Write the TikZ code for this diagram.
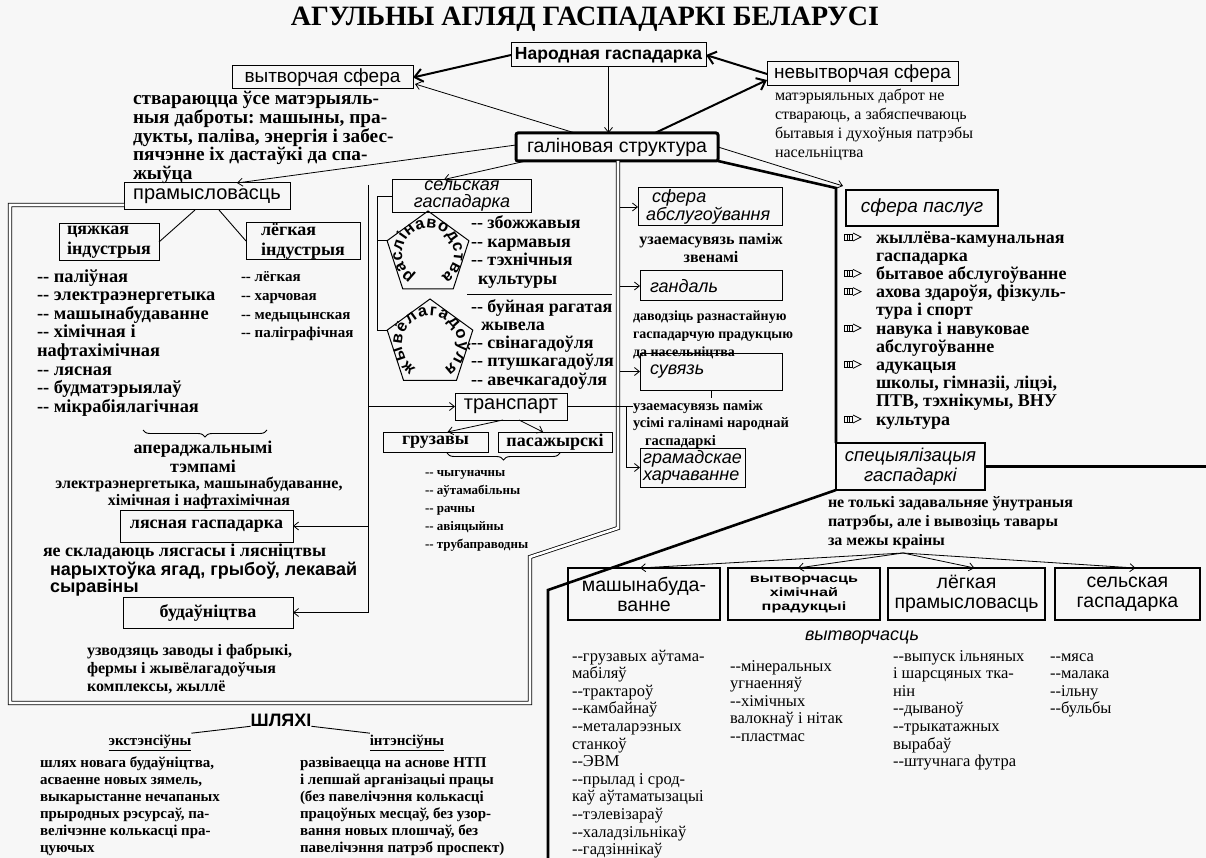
\documentclass[tikz,border=0pt]{standalone}
\usepackage{fontspec}
\usepackage{graphicx}
\setmainfont{Liberation Serif}
\setsansfont{Liberation Sans}
\usetikzlibrary{arrows.meta,shapes.geometric,decorations.text,decorations.pathreplacing,calc}

\newcommand{\fsz}[2]{\fontsize{#1}{#2}\selectfont}
\newcommand{\lnup}{\rule{0pt}{0.8em}}
\frenchspacing

\begin{document}
\begin{tikzpicture}[x=1pt,y=-1pt,
  every node/.style={inner sep=0pt,outer sep=0pt},
  boxline/.style={draw,line width=1pt},
  sbox/.style={boxline,font=\sffamily\fsz{19}{20}},
  ibox/.style={boxline,font=\sffamily\itshape\fsz{18}{17}},
  rbox/.style={boxline,font=\rmfamily\bfseries\fsz{18}{20}},
  thickbox/.style={draw,line width=2.4pt},
  bigbox/.style={draw,line width=1.8pt,align=center,minimum height=52pt},
  txt/.style={anchor=north west,align=left},
  ctxt/.style={anchor=north,align=center},
  pentagon/.style={draw,line width=1pt,regular polygon,regular polygon sides=5},
  thinline/.style={line width=0.9pt},
  arrowthin/.style={line width=0.8pt,-{Straight Barb[length=5pt,width=8pt]}},
  arrowbig/.style={line width=2pt,-{Straight Barb[length=8pt,width=13pt]}},
  heavyline/.style={line width=2.6pt,line join=miter},
  dblline/.style={double,double distance=2.6pt,line width=0.8pt},
]
% page
\path[use as bounding box,fill=gray!6] (0,0) rectangle (1206,858);

% ---------- top level ----------
\node[font=\rmfamily\bfseries\fsz{28}{28}] (title) at (585,19) {АГУЛЬНЫ АГЛЯД ГАСПАДАРКІ БЕЛАРУСІ};

\node[boxline,font=\sffamily\bfseries\fsz{17.5}{18},minimum width=195pt,minimum height=24pt] (nat) at (608.5,55) {Народная гаспадарка};
\node[sbox,minimum width=181pt,minimum height=23pt] (prod) at (322.5,77.5) {вытворчая сфера};
\node[sbox,minimum width=191pt,minimum height=24pt] (nonprod) at (862.5,74) {невытворчая сфера};
\node[draw,line width=3pt,rounded corners=2pt,font=\sffamily\fsz{19.5}{20},minimum width=202pt,minimum height=28pt] (branch) at (617,147) {галіновая структура};

\node[txt,font=\rmfamily\bfseries\fsz{19.3}{18.8}] (prodtxt) at (133,89) {\lnup ствараюцца ўсе матэрыяль-\\ныя даброты: машыны, пра-\\дукты, паліва, энергія і забес-\\пячэнне іх дастаўкі да спа-\\жыўца};
\node[txt,font=\rmfamily\fsz{16}{18.8}] (nonprodtxt) at (775,88.2) {\lnup матэрыяльных даброт не\\ствараюць, а забяспечваюць\\бытавыя і духоўныя патрэбы\\насельніцтва};

\draw[arrowbig] (nat.west) -- (prod.east);
\draw[arrowthin] ([xshift=-42pt]branch.north) -- ([xshift=2pt,yshift=5pt]prod.south east);
\draw[arrowthin] (nat.south) -- (nat.south |- branch.north);
\draw[arrowbig] (nonprod.west) -- (nat.east);
\draw[arrowbig] ([xshift=38pt]branch.north) -- ([yshift=-6pt]nonprod.west);

% ---------- industry ----------
\node[sbox,font=\sffamily\fsz{20}{20},minimum width=166pt,minimum height=27pt] (ind) at (207,196.5) {прамысловасць};
\draw[arrowthin] ([yshift=2pt]branch.west) -- ([xshift=30pt]ind.north);

\draw[dblline] (ind.west |- 0,205) -- (10,205) -- (10,703) -- (530,703) -- (530,557) -- (618,528) -- (618,161);

\node[rbox,align=left,minimum width=100pt,minimum height=37pt] (heavy) at (109,242) {цяжкая\\індустрыя};
\node[rbox,align=left,minimum width=114pt,minimum height=37pt] (light) at (303,241) {лёгкая\\індустрыя};
\draw[thinline] ([xshift=-12pt]ind.south) -- (heavy.east);
\draw[thinline] ([xshift=12pt]ind.south) -- (light.west);

\node[txt,font=\rmfamily\bfseries\fsz{18.4}{18.6}] (heavylist) at (37,267.3) {\lnup -{}- паліўная\\-{}- электраэнергетыка\\-{}- машынабудаванне\\-{}- хімічная і\\нафтахімічная\\-{}- лясная\\-{}- будматэрыялаў\\-{}- мікрабіялагічная};
\node[txt,font=\rmfamily\bfseries\fsz{15}{18.6}] (lightlist) at (241,270) {\lnup -{}- лёгкая\\-{}- харчовая\\-{}- медыцынская\\-{}- паліграфічная};

\draw[thinline,decorate,decoration={brace,amplitude=7pt}] (267,430) -- (143,430);
\node[ctxt,font=\rmfamily\bfseries\fsz{18}{19}] (rate) at (203,438.6) {\lnup апераджальнымі\\тэмпамі};
\node[ctxt,font=\rmfamily\bfseries\fsz{16}{17}] (leaders) at (199,475.2) {\lnup электраэнергетыка, машынабудаванне,\\хімічная і нафтахімічная};

\node[rbox,minimum width=173pt,minimum height=32pt] (forest) at (206.5,526) {лясная гаспадарка};
\node[anchor=base west,font=\rmfamily\bfseries\fsz{18}{18}] (forestdesc) at (43,556) {яе складаюць лясгасы і лясніцтвы};
\node[txt,font=\sffamily\bfseries\fsz{18}{17}] (forestwork) at (50,560.6) {\lnup нарыхтоўка ягад, грыбоў, лекавай\\сыравіны};

\node[rbox,minimum width=170pt,minimum height=31pt] (build) at (208,612.5) {будаўніцтва};
\node[txt,font=\rmfamily\bfseries\fsz{16}{18}] (builddesc) at (87,642.2) {\lnup узводзяць заводы і фабрыкі,\\фермы і жывёлагадоўчыя\\комплексы, жыллё};

% vertical feeder inside the production sphere
\coordinate (vtop) at (368,185);
\draw[arrowthin] (vtop) |- (build.east);
\draw[arrowthin] (vtop |- forest.east) -- (forest.east);

% ---------- agriculture ----------
\node[ibox,align=center,minimum width=139pt,minimum height=33pt] (agri) at (462,196) {сельская\\гаспадарка};
\draw[arrowthin] ([xshift=10pt]branch.south west) -- ([xshift=-18pt]agri.north);

\node[pentagon,minimum size=86pt] (pent1) at (428,254) {};
\node[pentagon,minimum size=90pt] (pent2) at (430,344) {};
\begin{scope}[shift={(pent1.center)},y=1pt]
  \path[decorate,decoration={text along path,text align=fit to path,
    text={|\sffamily\bfseries\fsz{16.5}{16.5}|раслінаводства}}]
    (240:26) arc[start angle=240,end angle=-60,radius=26];
\end{scope}
\begin{scope}[shift={(pent2.center)},y=1pt]
  \path[decorate,decoration={text along path,text align=fit to path,
    text={|\sffamily\bfseries\fsz{16.5}{16.5}|жывёлагадоўля}}]
    (240:28) arc[start angle=240,end angle=-60,radius=28];
\end{scope}
\draw[thinline] (agri.west) -- ++(-15,0) coordinate (bk) -- (bk |- pent2.corner 2) -- (pent2.corner 2);
\draw[thinline] (bk |- pent1.corner 2) -- (pent1.corner 2);

\node[txt,font=\rmfamily\bfseries\fsz{18}{18.5}] (crops) at (471,214.6) {\lnup -{}- збожжавыя\\-{}- кармавыя\\-{}- тэхнічныя\\\hspace*{7pt}культуры};
\draw[thinline] (467,294) -- (612,294);
\node[txt,font=\rmfamily\bfseries\fsz{18}{18.3}] (stock) at (471,297.6) {\lnup -{}- буйная рагатая\\\hspace*{10pt}жывела\\-{}- свінагадоўля\\-{}- птушкагадоўля\\-{}- авечкагадоўля};

% ---------- transport ----------
\node[sbox,font=\sffamily\fsz{20}{20},minimum width=112pt,minimum height=27pt] (transp) at (511,406.5) {транспарт};
\draw[arrowthin] (vtop |- transp.west) -- (transp.west);
\node[rbox,minimum width=105pt,minimum height=20pt] (cargo) at (435.5,442) {грузавы};
\node[rbox,minimum width=114pt,minimum height=20pt] (pass) at (555,442) {пасажырскі};
\draw[arrowthin] ([xshift=-8pt]transp.south) -- ([xshift=12pt]cargo.north);
\draw[arrowthin] ([xshift=8pt]transp.south) -- ([xshift=-12pt]pass.north);
\draw[thinline,decorate,decoration={brace,amplitude=7pt}] (560,453) -- (447,453);
\node[txt,font=\rmfamily\bfseries\fsz{13}{18}] (modes) at (425,466) {\lnup -{}- чыгуначны\\-{}- аўтамабільны\\-{}- рачны\\-{}- авіяцыйны\\-{}- трубаправодны};

% ---------- services of the production sphere ----------
\coordinate (dl) at (620,0);
\node[ibox,align=left,text width=128pt,minimum width=144pt,minimum height=38pt] (svc) at (710,207) {\hspace*{6pt}сфера\\абслугоўвання};
\node[ctxt,font=\rmfamily\bfseries\fsz{16}{17.5}] (svcdesc) at (711,232.2) {\lnup узаемасувязь паміж\\звенамі};
\node[ibox,align=left,text width=122pt,minimum width=142pt,minimum height=30pt] (trade) at (711,286) {гандаль};
\node[txt,font=\rmfamily\bfseries\fsz{14}{18}] (tradedesc) at (633,308.8) {\lnup даводзіць разнастайную\\гаспадарчую прадукцыю\\да насельніцтва};
\node[ibox,align=left,text width=122pt,minimum width=142pt,minimum height=37pt] (comm) at (711,371.5) {сувязь};
\node[txt,font=\rmfamily\bfseries\fsz{14.5}{17.5}] (link) at (633,398.4) {\lnup узаемасувязь паміж\\усімі галінамі народнай\\\hspace*{12pt}гаспадаркі};
\node[ibox,align=left,minimum width=105pt,minimum height=39pt] (cater) at (692.5,467.5) {грамадскае\\харчаванне};

\draw[arrowthin] (svc.west -| dl) -- (svc.west);
\draw[arrowthin] (trade.west -| dl) -- (trade.west);
\draw[arrowthin] (comm.west -| dl) -- (comm.west);
\draw[thinline] (comm.south) -- ++(0,8);
\draw[thinline] (transp.east) -- (transp.east -| link.west);
\coordinate (lk) at (626,406);
\draw[arrowthin] (lk) |- (cater.west);

% ---------- non-production services ----------
\coordinate (hb) at (836,188);
\draw[heavyline] (branch.south east) -- (hb) -- (836,443);
\node[thickbox,font=\sffamily\itshape\fsz{19}{20},minimum width=152pt,minimum height=36pt] (services) at (922,208) {сфера паслуг};
\draw[arrowthin] (branch.east) -- ([xshift=-3pt,yshift=4pt]services.north west);
\node[txt,font=\rmfamily\bfseries\fsz{18}{18.2}] (servlist) at (876,228.6) {\lnup жыллёва-камунальная\\гаспадарка\\бытавое абслугоўванне\\ахова здароўя, фізкуль-\\тура і спорт\\навука і навуковае\\абслугоўванне\\адукацыя\\школы, гімназіі, ліцэі,\\ПТВ, тэхнікумы, ВНУ\\культура};
\foreach \yy in {243,279.4,297.6,334,370.4,425}{
  \draw[line width=0.5pt] (844,\yy-9) rectangle (852,\yy-3);
  \draw[line width=0.4pt] (846.7,\yy-9) -- (846.7,\yy-3) (849.3,\yy-9) -- (849.3,\yy-3);
  \draw[line width=0.8pt] (853,\yy-10) -- (861,\yy-6) -- (853,\yy-2);
}

% ---------- specialisation ----------
\node[thickbox,font=\sffamily\itshape\fsz{18.5}{20},align=center,minimum width=149pt,minimum height=47pt] (spec) at (910.5,466.5) {спецыялізацыя\\гаспадаркі};
\coordinate (rE) at (1206,0);
\draw[heavyline] (spec.east) -- (spec.east -| rE);
\coordinate (bl1) at (548,590);
\coordinate (bl2) at (548,858);
\draw[heavyline] (spec.south west) -- (bl1) -- (bl2);
\node[txt,font=\rmfamily\bfseries\fsz{16}{19}] (specdesc) at (828,494.2) {\lnup не толькі задавальняе ўнутраныя\\патрэбы, але і вывозіць тавары\\за межы краіны};

\node[bigbox,font=\sffamily\fsz{19.5}{20},minimum width=152pt] (mach) at (644,594) {машынабуда-\\ванне};
\node[bigbox,font=\sffamily\bfseries\fsz{12}{14},minimum width=152pt] (chem) at (804,594) {\scalebox{1.35}[1]{\begin{tabular}{@{}c@{}}вытворчасць\\хімічнай\\прадукцыі\end{tabular}}};
\node[bigbox,font=\sffamily\fsz{19.5}{20},minimum width=157pt] (lightind) at (966.5,594) {лёгкая\\прамысловасць};
\node[bigbox,font=\sffamily\fsz{19.5}{20},minimum width=145pt] (agri2) at (1127.5,594) {сельская\\гаспадарка};

\coordinate (fan) at (903,553);
\draw[arrowthin] (fan) -- ([xshift=-4pt]mach.north);
\draw[arrowthin] (fan) -- ([xshift=-6pt]chem.north);
\draw[arrowthin] (fan) -- ([xshift=8pt]lightind.north);
\draw[arrowthin] (fan) -- ([xshift=8pt]agri2.north);

\node[font=\sffamily\itshape\fsz{18}{18}] (outp) at (862,638) {вытворчасць};
\node[txt,font=\rmfamily\fsz{16.5}{17.6}] (col1) at (572,647.8) {\lnup -{}-грузавых аўтама-\\мабіляў\\-{}-трактароў\\-{}-камбайнаў\\-{}-металарэзных\\станкоў\\-{}-ЭВМ\\-{}-прылад і срод-\\каў аўтаматызацыі\\-{}-тэлевізараў\\-{}-халадзільнікаў\\-{}-гадзіннікаў};
\node[txt,font=\rmfamily\fsz{16.5}{17.6}] (col2) at (730,657.8) {\lnup -{}-мінеральных\\угнаенняў\\-{}-хімічных\\валокнаў і нітак\\-{}-пластмас};
\node[txt,font=\rmfamily\fsz{16.5}{17.6}] (col3) at (893,647.8) {\lnup -{}-выпуск ільняных\\і шарсцяных тка-\\нін\\-{}-дываноў\\-{}-трыкатажных\\вырабаў\\-{}-штучнага футра};
\node[txt,font=\rmfamily\fsz{16.5}{17.6}] (col4) at (1050,647.8) {\lnup -{}-мяса\\-{}-малака\\-{}-ільну\\-{}-бульбы};

% ---------- ways of development ----------
\node[font=\sffamily\bfseries\fsz{18}{18}] (ways) at (281,720) {ШЛЯХІ};
\node[font=\rmfamily\bfseries\fsz{15}{15}] (ext) at (150,743) {\underline{экстэнсіўны}};
\node[font=\rmfamily\bfseries\fsz{15}{15}] (int) at (407,743) {\underline{інтэнсіўны}};
\draw[thinline] (ways.south west) -- ([yshift=2pt]ext.north east);
\draw[thinline] (ways.south east) -- ([yshift=2pt]int.north west);
\node[txt,font=\rmfamily\bfseries\fsz{15}{17}] (extdesc) at (40,755) {\lnup шлях новага будаўніцтва,\\асваенне новых зямель,\\выкарыстанне нечапаных\\прыродных рэсурсаў, па-\\велічэнне колькасці пра-\\цуючых};
\node[txt,font=\rmfamily\bfseries\fsz{15}{17}] (intdesc) at (300,755) {\lnup развіваецца на аснове НТП\\і лепшай арганізацыі працы\\(без павелічэння колькасці\\працоўных месцаў, без узор-\\вання новых плошчаў, без\\павелічэння патрэб проспект)};
\end{tikzpicture}
\end{document}
